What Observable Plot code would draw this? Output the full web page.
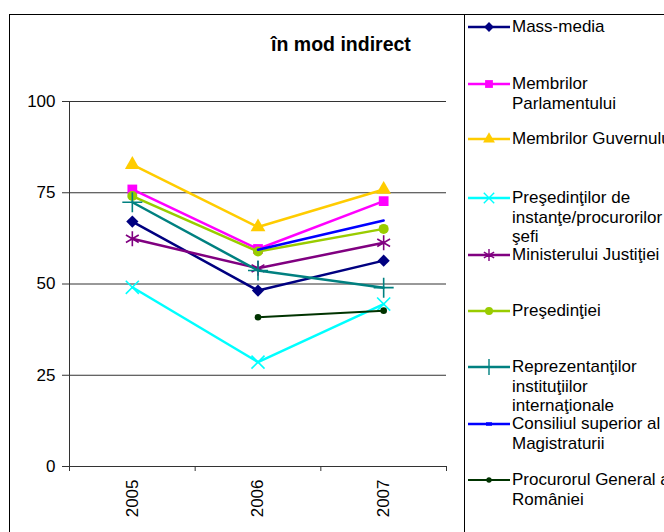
<!DOCTYPE html>
<html>
<head>
<meta charset="utf-8">
<script src="https://cdn.jsdelivr.net/npm/d3@7"></script>
<script src="https://cdn.jsdelivr.net/npm/@observablehq/plot@0.6"></script>
<style>
  body { margin: 0; background: #fff; font-family: "Liberation Sans", Arial, sans-serif; }
  #wrap { position: relative; width: 664px; height: 532px; overflow: hidden; }
  .box { position: absolute; border: 1px solid #000; box-sizing: border-box; }
  #title { position: absolute; left: 191px; width: 300px; top: 32px; text-align: center; font-weight: bold; font-size: 19.5px; line-height: 24px; }
  .leg { position: absolute; left: 466px; font-size: 17px; line-height: 19.5px; color: #000; white-space: nowrap; }
  .leg svg { position: absolute; left: 0; top: 0; }
  .leg div { position: absolute; left: 46px; top: 0; }
</style>
</head>
<body>
<div id="wrap"></div>
<script>
const years = [2005, 2006, 2007];
const seriesNames = [
  "Mass-media",
  "Membrilor Parlamentului",
  "Membrilor Guvernului",
  "Preşedinţilor de instanţe/procurorilor şefi",
  "Ministerului Justiţiei",
  "Preşedinţiei",
  "Reprezentanţilor instituţiilor internaţionale",
  "Consiliul superior al Magistraturii",
  "Procurorul General al României"
];
const legendLabels = [
  ["Mass-media"],
  ["Membrilor", "Parlamentului"],
  ["Membrilor Guvernului"],
  ["Preşedinţilor de", "instanţe/procurorilor", "şefi"],
  ["Ministerului Justiţiei"],
  ["Preşedinţiei"],
  ["Reprezentanţilor", "instituţiilor", "internaţionale"],
  ["Consiliul superior al", "Magistraturii"],
  ["Procurorul General al", "României"]
];
const massMedia      = [67.1, 48.2, 56.4];
const parlament      = [75.9, 59.6, 72.7];
const guvern         = [82.7, 65.6, 75.9];
const presInstante   = [49.1, 28.6, 44.5];
const ministerJustitie = [62.4, 54.3, 61.3];
const presedintie    = [74.1, 58.9, 65.1];
const reprezentanti  = [72.4, 53.7, 49.0];
const consiliul      = [null, 59.4, 67.4];
const procurorul     = [null, 40.9, 42.7];
const allValues = [massMedia, parlament, guvern, presInstante, ministerJustitie, presedintie, reprezentanti, consiliul, procurorul];
const yTicks = [0, 25, 50, 75, 100];
const title = "în mod indirect";

const styles = [
  {color: "#000080", symbol: "diamond2", filled: true, r: 5.5, w: 2.5},
  {color: "#FF00FF", symbol: "square", filled: true, r: 5.5, w: 2.5},
  {color: "#FFCC00", symbol: "triangle", filled: true, r: 5.5, w: 2.5},
  {color: "#00FFFF", symbol: "times", filled: false, r: 6, w: 2.5},
  {color: "#800080", symbol: "asterisk", filled: false, r: 7, w: 2.5},
  {color: "#99CC00", symbol: "circle", filled: true, r: 5, w: 2.5},
  {color: "#008080", symbol: "plus", filled: false, r: 6.5, w: 2.5},
  {color: "#0000FF", symbol: null, filled: false, r: 0, w: 2.5},
  {color: "#003300", symbol: "circle", filled: true, r: 3.3, w: 2}
];

const rows = seriesNames.map((name, i) =>
  years.map((yr, j) => ({series: name, year: yr, value: allValues[i][j]})).filter(d => d.value != null)
);

const marks = [
  Plot.ruleY(yTicks.filter(t => t > 0), {stroke: "#333", strokeWidth: 1}),
  Plot.ruleY([0], {stroke: "#333", strokeWidth: 1}),
  Plot.ruleX([2004.5], {stroke: "#333", strokeWidth: 1}),
  Plot.axisY({ticks: yTicks, tickSize: 7, tickPadding: 7, fontSize: 17, label: null, stroke: "#333"}),
  Plot.axisX({ticks: [2004.5, 2005.5, 2006.5, 2007.5], tickSize: 5, tickFormat: () => "", label: null, stroke: "#333"}),
  Plot.axisX({ticks: years, tickSize: 0, tickPadding: 13, tickRotate: -90, tickFormat: d => String(d), fontSize: 17, label: null})
];
rows.forEach((data, i) => {
  const s = styles[i];
  marks.push(Plot.line(data, {x: "year", y: "value", stroke: s.color, strokeWidth: s.w}));
  if (s.symbol) {
    marks.push(Plot.dot(data, {
      x: "year", y: "value", symbol: s.symbol, r: s.r,
      fill: s.filled ? s.color : "none",
      stroke: s.color, strokeWidth: s.filled ? 0 : 1.6
    }));
  }
});

const chart = Plot.plot({
  width: 664, height: 532,
  marginLeft: 69, marginRight: 218, marginTop: 101, marginBottom: 66,
  style: {fontFamily: "Liberation Sans, Arial, sans-serif", fontSize: "17px", color: "#000", background: "transparent"},
  x: {domain: [2004.5, 2007.5], axis: null},
  y: {domain: [0, 100], axis: null},
  marks
});

const wrap = document.getElementById("wrap");
chart.style.position = "absolute";
chart.style.left = "0px";
chart.style.top = "0px";
wrap.appendChild(chart);

const outer = document.createElement("div");
outer.className = "box";
Object.assign(outer.style, {left: "9px", top: "14px", width: "700px", height: "600px"});
wrap.appendChild(outer);
const legBox = document.createElement("div");
legBox.className = "box";
Object.assign(legBox.style, {left: "464px", top: "14px", width: "300px", height: "600px"});
wrap.appendChild(legBox);

const t = document.createElement("div");
t.id = "title";
t.textContent = title;
wrap.appendChild(t);

const legendTops = [17, 74, 129, 188, 245, 301, 357, 414, 470];
seriesNames.forEach((name, i) => {
  const s = styles[i];
  const item = document.createElement("div");
  item.className = "leg";
  item.style.top = legendTops[i] + "px";
  const svg = d3.create("svg").attr("width", 46).attr("height", 20);
  svg.append("line").attr("x1", 2).attr("x2", 44).attr("y1", 10).attr("y2", 10)
    .attr("stroke", s.color).attr("stroke-width", s.w);
  if (s.symbol) {
    const map = {diamond2: d3.symbolDiamond2, square: d3.symbolSquare, triangle: d3.symbolTriangle,
      times: d3.symbolTimes, asterisk: d3.symbolAsterisk, circle: d3.symbolCircle, plus: d3.symbolPlus};
    const size = (s.r * 0.8) ** 2 * Math.PI;
    svg.append("path").attr("d", d3.symbol(map[s.symbol], size)())
      .attr("transform", "translate(23,10)")
      .attr("fill", s.filled ? s.color : "none")
      .attr("stroke", s.color).attr("stroke-width", s.filled ? 0 : 1.4);
  } else {
    svg.append("line").attr("x1", 20).attr("x2", 26).attr("y1", 10).attr("y2", 10)
      .attr("stroke", s.color).attr("stroke-width", 3.5);
  }
  item.appendChild(svg.node());
  const txt = document.createElement("div");
  txt.innerHTML = legendLabels[i].join("<br>");
  item.appendChild(txt);
  wrap.appendChild(item);
});
</script>
</body>
</html>
